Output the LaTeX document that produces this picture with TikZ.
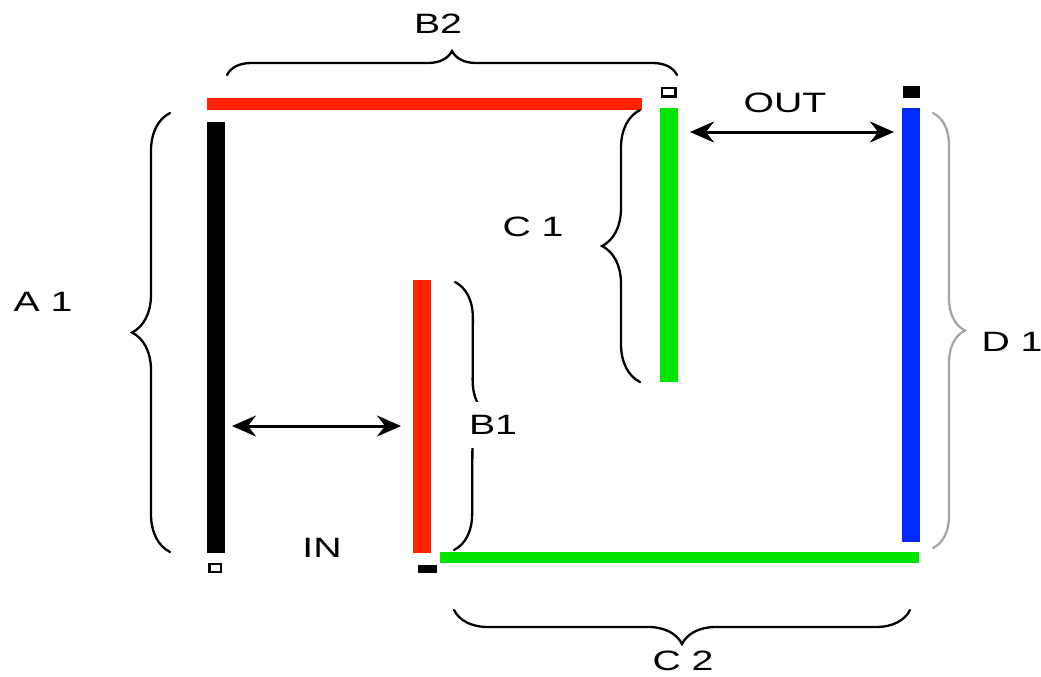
\documentclass[tikz,border=0pt]{standalone}
\usepackage{fontspec}
\setmainfont{Liberation Sans}
\usetikzlibrary{decorations.pathreplacing,arrows.meta}
\definecolor{barred}{RGB}{255,34,0}
\definecolor{bargreen}{RGB}{0,228,0}
\definecolor{barblue}{RGB}{0,40,255}
\begin{document}
\begin{tikzpicture}[x=1pt,y=-1pt,
  bar/.style={inner sep=0pt, outer sep=0pt, anchor=north west, draw=none},
  lbl/.style={font=\fontsize{28}{30}\selectfont, xscale=1.4, inner sep=0pt},
  brc/.style={decorate, decoration={brace, amplitude=#1}, line width=2.3pt, line cap=round},
  brc/.default=36,
  dbl/.style={{Stealth[length=24pt,width=21pt,inset=8pt]}-{Stealth[length=24pt,width=21pt,inset=8pt]}, line width=3pt},
  hollow/.style={draw=black, line width=2.6pt, fill=white, inner sep=0pt, outer sep=0pt}]
\useasboundingbox (0,0) rectangle (1041,677);
% bars
\node[bar, fill=barred, minimum width=435pt, minimum height=12pt] (redtop) at (207,98) {};
\node[bar, fill=black, minimum width=18pt, minimum height=431pt] (a1bar) at (207,122) {};
\node[bar, fill=barred, minimum width=18pt, minimum height=273pt] (b1bar) at (413,280) {};
\node[bar, fill=bargreen, minimum width=18pt, minimum height=274pt] (c1bar) at (660,108) {};
\node[bar, fill=bargreen, minimum width=479pt, minimum height=11pt] (c2bar) at (440,552) {};
\node[bar, fill=barblue, minimum width=18pt, minimum height=434pt] (d1bar) at (902,108) {};
% terminals
\draw[hollow] (209.5,564) rectangle (221,572);
\draw[hollow] (662,88) rectangle (675.5,96.5);
\node[bar, fill=black, minimum width=19pt, minimum height=8pt] (b1term) at (418,565) {};
\node[bar, fill=black, minimum width=17pt, minimum height=12pt] (d1term) at (903,86) {};
% arrows
\coordinate (inL) at (232,426);
\coordinate (inR) at (401,426);
\coordinate (outL) at (690,132);
\coordinate (outR) at (894,132);
\draw[dbl] (inL) -- (inR);
\draw[dbl] (outL) -- (outR);
% braces
\coordinate (a1t) at (170,113);
\coordinate (a1b) at (170,552);
\coordinate (c1t) at (640,110);
\coordinate (c1b) at (640,382);
\coordinate (b1t) at (455,282);
\coordinate (b1b) at (454,550);
\coordinate (d1t) at (933,113);
\coordinate (d1b) at (933,548);
\coordinate (b2l) at (227,75);
\coordinate (b2r) at (677,75);
\coordinate (c2l) at (454,610);
\coordinate (c2r) at (910,610);
\draw[brc=38] (a1b) -- (a1t);
\draw[brc=38] (c1b) -- (c1t);
\draw[brc=36] (b1t) -- (b1b);
\draw[brc=32, draw=black!35] (d1t) -- (d1b);
\draw[brc=24] (b2l) -- (b2r);
\draw[brc=34] (c2r) -- (c2l);
% labels
\node[lbl] (lb2) at (438,24) {B2};
\node[lbl] (lout) at (785,103) {OUT};
\node[lbl] (lc1) at (533,227) {C 1};
\node[lbl] (la1) at (43,302) {A 1};
\node[lbl, fill=white, inner xsep=2pt, inner ysep=13pt] (lb1) at (493,425) {B1};
\node[lbl] (ld1) at (1012,342) {D 1};
\node[lbl] (lin) at (322,548) {IN};
\node[lbl] (lc2) at (683,661) {C 2};
\end{tikzpicture}
\end{document}
